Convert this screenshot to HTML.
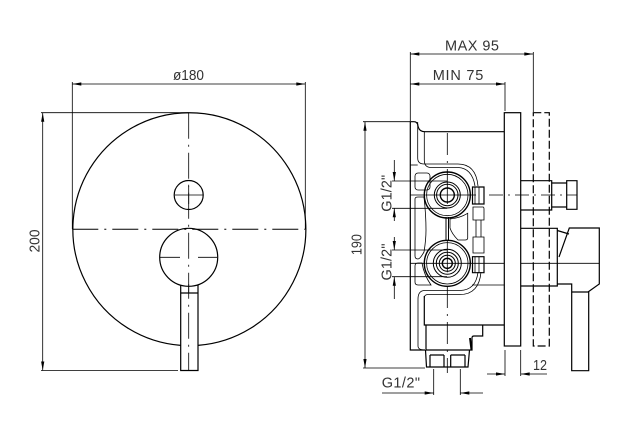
<!DOCTYPE html>
<html><head><meta charset="utf-8"><style>
html,body{margin:0;padding:0;background:#fff;width:624px;height:433px;overflow:hidden}
svg{display:block}
text{font-family:"Liberation Sans",sans-serif;font-size:14.5px;fill:#333}
</style></head><body>
<svg width="624" height="433" viewBox="0 0 624 433" xmlns="http://www.w3.org/2000/svg">
<defs>
<g id="ar"><path d="M0 0L9 -1.6L9 1.6Z" fill="#000"/></g>
</defs>
<g fill="none" stroke="#000" stroke-width="0.8">
<!-- LEFT dims -->
<path d="M72.3 82V229M305.3 82V229M41 112.7H188.7M41 370.5H178M72.3 84H305.3M42.7 112.7V370.5"/>
<!-- RIGHT dims -->
<path d="M410.3 52V121M505 82V111M533.3 52V112M410.3 54H533.3M410.3 84H505"/>
<path d="M363 121.7H410M363 368H425M365 121.7V368"/>
<path d="M392 181H447M392 208.3H447M394.3 160V181M394.3 208.3V221M392 250H447M392 276.7H447M394.3 237V250M394.3 276.7V299"/>
<path d="M433.7 369V395M460.3 369V395M382 393H433.7M460.3 393H483"/>
<path d="M505 350V376M520.7 350V376M487 374H505M520.7 374H547"/>
</g>
<g>
<use href="#ar" transform="translate(72.3 84)"/><use href="#ar" transform="translate(305.3 84) rotate(180)"/>
<use href="#ar" transform="translate(42.7 112.7) rotate(90)"/><use href="#ar" transform="translate(42.7 370.5) rotate(-90)"/>
<use href="#ar" transform="translate(410.3 54)"/><use href="#ar" transform="translate(533.3 54) rotate(180)"/>
<use href="#ar" transform="translate(410.3 84)"/><use href="#ar" transform="translate(505 84) rotate(180)"/>
<use href="#ar" transform="translate(365 121.7) rotate(90)"/><use href="#ar" transform="translate(365 368) rotate(-90)"/>
<use href="#ar" transform="translate(394.3 181) rotate(-90)"/><use href="#ar" transform="translate(394.3 208.3) rotate(90)"/>
<use href="#ar" transform="translate(394.3 250) rotate(-90)"/><use href="#ar" transform="translate(394.3 276.7) rotate(90)"/>
<use href="#ar" transform="translate(433.7 393) rotate(180)"/><use href="#ar" transform="translate(460.3 393)"/>
<use href="#ar" transform="translate(505 374) rotate(180)"/><use href="#ar" transform="translate(520.7 374)"/>
</g>
<!-- LEFT view -->
<g fill="none" stroke="#000" stroke-width="1.2">
<path d="M180.7 345.4A116.5 116.5 0 1 1 198 345.4"/>
<circle cx="188.7" cy="195" r="14.5"/>
<circle cx="188.7" cy="257.3" r="29"/>
<path d="M180.7 293V370.5H198V293ZM180.7 293V285M198 293V285"/>
</g>
<g fill="none" stroke="#000" stroke-width="0.8">
<path d="M175 195H203M188.7 186V204M160 257.3H180M198 257.3H217M188.7 284V293"/>
<path d="M72.3 229.3H305.3" stroke-width="1" stroke-dasharray="26 6 2 6"/>
<path d="M188.7 112.7V370.5" stroke-dasharray="26 6 2 6"/>
</g>
<!-- RIGHT view -->
<g fill="none" stroke="#000" stroke-width="1.2">
<rect x="504.3" y="112.7" width="16.4" height="233.3"/>
<path d="M533.3 112.7H549.3V346H533.3Z" stroke-dasharray="8 3"/>
<path d="M504 131.7H425Q419 131.7 418 126Q417.5 121.7 414 121.7H410.3V350H425"/>
<path d="M520.7 180.7H551.7V210H520.7M551.7 183H566.7V207H551.7M566.7 180.7H577V209.3H566.7Z"/>
<path d="M520.7 228.3H557.3V286H520.7M557.3 230.5L569 234M557.3 284H571.7L571.7 292H588L599.3 284V228H569.3L559 257M571.7 292V370.7H588.7V291"/>
<path d="M424.3 296V325H504M426 325V350H472V338Q472 336 474 336H482.7V325"/>
<path d="M471.5 350L470 338" stroke-width="2"/>
<path d="M425.5 350L426.5 367H468L469.5 350"/>
<path d="M430 355V367M444 355V367M430 355H444M450.7 355V367M465 355V367M450.7 355H465"/>
<path d="M472.5 187H484V204H472.5ZM472.5 256.7H484V272.7H472.5Z"/>
</g>
<g fill="none" stroke="#000" stroke-width="0.8">
<path d="M417.7 122V158Q417.7 164 424 164H458Q476 164 478 186"/>
<path d="M424.3 132V160Q424.3 167.5 431 167.5H458Q472 168 475 186"/>
<path d="M410.3 165H417.7"/>
<path d="M504 285H472"/>
<path d="M478 272Q476 290 460 290.5H425Q418 290.5 418 299V346Q418 350 425 350"/>
<path d="M481 272Q479 294.5 460 294.5H428Q424.3 294.5 424.3 298"/>
<rect x="415" y="173" width="15" height="17" rx="3"/>
<path d="M415 199Q415 197 418 197H424Q426 215 426 230Q426 240 424 252Q420 259 418 259Q415 259 415 256Z"/>
<path d="M415 266Q415 263 418 263H422Q424 275 431 285H418Q415 285 415 282Z"/>
<path d="M467.7 213.3V238Q467.7 240 465 240H458Q452 234 450 228V219Q460 218 467.7 213.3Z"/>
<path d="M473 207H483Q484 207 484 209V220H473ZM473 237H484V253H473ZM476 220V237M481 220V237"/>
<path d="M475 187V204M475 256.7V272.7M479 187V204M479 256.7V272.7"/>
<path d="M446 217V241M448.5 217V241" stroke-width="1"/>
<path d="M410.3 195H425M469 195H476M410.3 263.3H425M469 263.3H504M520.7 263.3H599"/>
<path d="M489 195H577" stroke-dasharray="14 5 2 5"/>
<path d="M447.3 133V173M447.3 286V373" stroke-dasharray="22 6 2 6"/>
</g>
<g fill="none" stroke="#000">
<g transform="translate(447.3 195)">
<circle r="23" stroke-width="1.4"/><circle r="20.7" stroke-width=".8"/><circle r="13" stroke-width="1"/><circle r="10.7" stroke-width="1"/><circle r="7" stroke-width="1.4"/>
<path d="M0 -23V9M-22 0H22" stroke-width=".8"/>
</g>
<g transform="translate(447.3 263.3)">
<circle r="23" stroke-width="1.4"/><circle r="20.7" stroke-width=".8"/><circle r="14" stroke-width="1"/><circle r="11" stroke-width="1"/><circle r="8" stroke-width="1"/><circle r="5" stroke-width="1.4"/>
<path d="M0 -23V9M-22 0H22" stroke-width=".8"/>
</g>
</g>
<!-- text -->
<text x="173" y="80" textLength="31" lengthAdjust="spacingAndGlyphs">ø180</text>
<text transform="translate(39.3 241) rotate(-90)" text-anchor="middle" textLength="23" lengthAdjust="spacingAndGlyphs">200</text>
<text x="445" y="50.7" textLength="54" lengthAdjust="spacing">MAX 95</text>
<text x="432.7" y="80" textLength="50.6" lengthAdjust="spacing">MIN 75</text>
<text transform="translate(361.7 244.6) rotate(-90)" text-anchor="middle" textLength="21" lengthAdjust="spacingAndGlyphs">190</text>
<text transform="translate(391.7 193.3) rotate(-90)" text-anchor="middle" textLength="37" lengthAdjust="spacing">G1/2"</text>
<text transform="translate(391.7 262) rotate(-90)" text-anchor="middle" textLength="37" lengthAdjust="spacing">G1/2"</text>
<text x="381.7" y="387.3" textLength="38.3" lengthAdjust="spacing">G1/2"</text>
<text x="533" y="370" textLength="14" lengthAdjust="spacingAndGlyphs">12</text>
</svg>
</body></html>
